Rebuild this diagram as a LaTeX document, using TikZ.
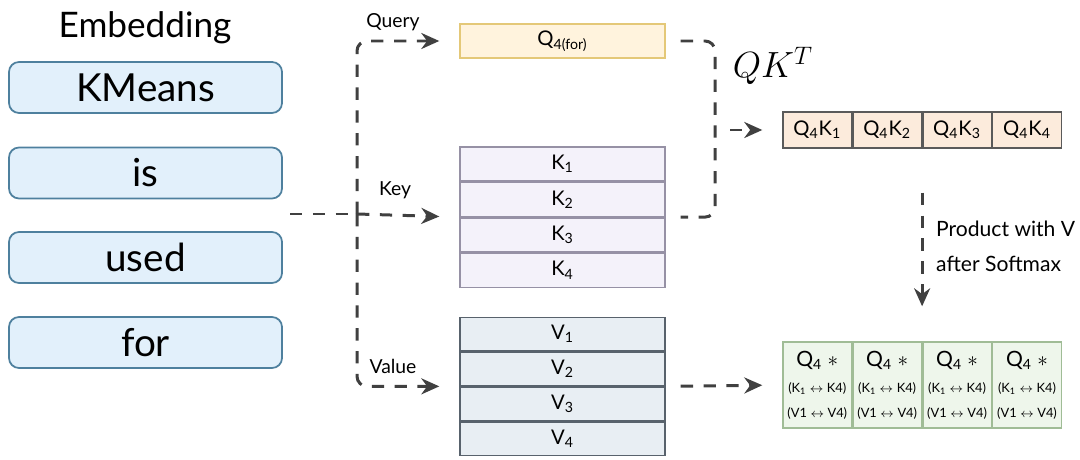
\documentclass[tikz,border=0pt]{standalone}
\usepackage{fontspec}
\setmainfont{Lato}
\usetikzlibrary{arrows.meta,positioning,calc}

\definecolor{wordfill}{RGB}{226,240,251}
\definecolor{worddraw}{RGB}{78,128,158}
\definecolor{qfill}{RGB}{255,243,221}
\definecolor{qdraw}{RGB}{228,200,120}
\definecolor{kfill}{RGB}{244,242,250}
\definecolor{kdraw}{RGB}{150,145,165}
\definecolor{vfill}{RGB}{232,238,243}
\definecolor{vdraw}{RGB}{88,98,108}
\definecolor{sfill}{RGB}{252,235,220}
\definecolor{sdraw}{RGB}{90,90,90}
\definecolor{ofill}{RGB}{238,246,235}
\definecolor{odraw}{RGB}{160,188,150}
\definecolor{dashgray}{RGB}{64,64,64}

\newcommand{\outtext}{Q\textsubscript{4} $*$\\[1pt]{\fontsize{7.3}{11}\selectfont (K\textsubscript{1} $\leftrightarrow$ K4)}\\{\fontsize{7.3}{11}\selectfont (V1 $\leftrightarrow$ V4)}}

\begin{document}
\begin{tikzpicture}[
  x=0.2mm, y=-0.2mm,
  >={Stealth[length=3.6mm,width=3.2mm]},
  every node/.style={font=\fontsize{11.5}{13}\selectfont},
  wordbox/.style={draw=worddraw, fill=wordfill, line width=1pt, rounded corners=2mm,
    minimum width=54.6mm, minimum height=10.2mm, font=\fontsize{22}{26}\selectfont},
  querybox/.style={draw=qdraw, fill=qfill, line width=0.8pt, minimum width=41mm, minimum height=6.8mm},
  keyrow/.style={draw=kdraw, fill=kfill, line width=0.8pt, minimum width=41mm, minimum height=6.8mm},
  valrow/.style={draw=vdraw, fill=vfill, line width=0.8pt, minimum width=41mm, minimum height=6.7mm},
  scorecell/.style={draw=sdraw, fill=sfill, line width=0.8pt, minimum width=13.7mm, minimum height=7.2mm, inner sep=0pt},
  outcell/.style={draw=odraw, fill=ofill, line width=0.8pt, minimum width=13.7mm, minimum height=17.2mm,
    inner sep=0pt, align=center, font=\fontsize{12}{14}\selectfont},
  dashline/.style={dashgray, line width=1.7pt, dash pattern=on 7pt off 6pt},
  flow/.style={dashline, ->},
  lbl/.style={font=\fontsize{11}{13}\selectfont},
]
\useasboundingbox (0,0) rectangle (1080,460);

% Embedding column
\node (emb) at (145,28) {\fontsize{20}{24}\selectfont Embedding};
\node[wordbox] (w1) at (145.5,87.5) {KMeans};
\node[wordbox] (w2) at (145.5,173) {is};
\node[wordbox] (w3) at (145.5,257.5) {used};
\node[wordbox] (w4) at (145.5,342.5) {for};

% Query, keys, values
\node[querybox] (query) at (562.5,41) {Q\textsubscript{4(for)}};
\node[keyrow] (k1) at (562.5,164) {K\textsubscript{1}};
\node[keyrow, below=0pt of k1] (k2) {K\textsubscript{2}};
\node[keyrow, below=0pt of k2] (k3) {K\textsubscript{3}};
\node[keyrow, below=0pt of k3] (k4) {K\textsubscript{4}};
\node[valrow] (v1) at (562.5,334) {V\textsubscript{1}};
\node[valrow, below=0pt of v1] (v2) {V\textsubscript{2}};
\node[valrow, below=0pt of v2] (v3) {V\textsubscript{3}};
\node[valrow, below=0pt of v3] (v4) {V\textsubscript{4}};

% Scores row
\node[scorecell] (s1) at (817.25,130) {Q\textsubscript{4}K\textsubscript{1}};
\node[scorecell, right=0pt of s1] (s2) {Q\textsubscript{4}K\textsubscript{2}};
\node[scorecell, right=0pt of s2] (s3) {Q\textsubscript{4}K\textsubscript{3}};
\node[scorecell, right=0pt of s3] (s4) {Q\textsubscript{4}K\textsubscript{4}};
\node (qkt) at (773,66) {\fontsize{20}{24}\selectfont $QK^T$};

% Output row
\node[outcell] (o1) at (817.25,385) {\outtext};
\node[outcell, right=0pt of o1] (o2) {\outtext};
\node[outcell, right=0pt of o2] (o3) {\outtext};
\node[outcell, right=0pt of o3] (o4) {\outtext};

% Split into Q, K, V
\coordinate (src) at (290,214);
\coordinate (split) at (357,214);
\draw[dashline] (src) -- (split);
\draw[flow, rounded corners=2mm, shorten >=4mm] (split) |- (query.west);
\draw[flow, shorten >=4mm] (split) -- (k2.south west);
\draw[flow, rounded corners=2mm, shorten >=4mm] (split) |- (v2.south west);
\node[lbl] (qlbl) at (393,22) {Query};
\node[lbl] (klbl) at (395,190) {Key};
\node[lbl] (vlbl) at (393,366) {Value};

% Q times K
\coordinate (join) at (715,130);
\draw[dashline, rounded corners=2mm] ($(query.east)+(3mm,0)$) -| (join) |- ($(k2.south east)+(3mm,0)$);
\draw[flow, shorten <=3mm, shorten >=4mm] (join) -- (s1.west);

% Softmax and product with V
\draw[flow, shorten <=8.8mm, shorten >=7mm] (s2.south east) -- (o2.north east);
\node[lbl, anchor=west, font=\fontsize{12}{14}\selectfont] (prod1) at (930,229) {Product with V};
\node[lbl, anchor=west, font=\fontsize{12}{14}\selectfont] (prod2) at (930,264) {after Softmax};
\draw[flow, shorten <=3mm, shorten >=4mm] (v2.south east) -- (o1.west);
\end{tikzpicture}
\end{document}
